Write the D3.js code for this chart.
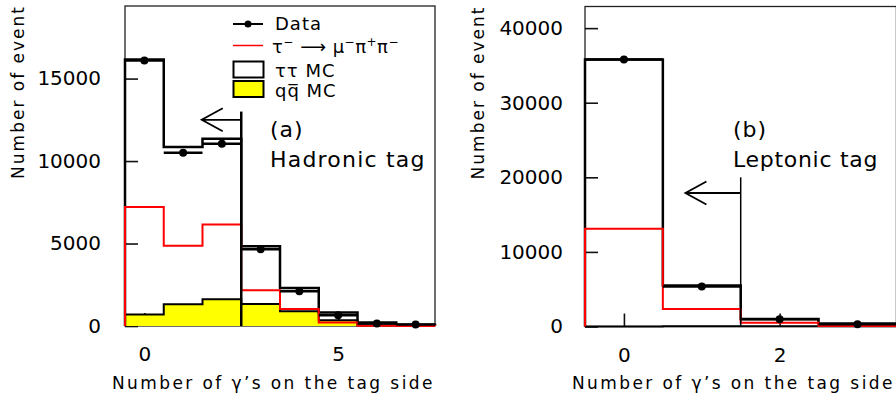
<!DOCTYPE html>
<html>
<head>
<meta charset="utf-8">
<script src="https://cdn.jsdelivr.net/npm/d3@7"></script>
<style>
  body { margin: 0; background: #fff; }
  svg { display: block; font-family: "DejaVu Sans", sans-serif; }
</style>
</head>
<body>
<div id="chart"></div>
<script>
const width = 896;
const height = 399;

// (a) hadronic tag: number of gammas on the tag side
const nGammaA = [0, 1, 2, 3, 4, 5, 6, 7];
const dataA = [16100, 10500, 11050, 4650, 2100, 650, 150, 90];
const ttMcA = [15450, 9530, 9730, 3500, 1400, 470, 160, 60];
const qqMcA = [700, 1320, 1620, 1330, 900, 350, 50, 10];
const sigA = [7220, 4860, 6150, 2170, 1030, 210, 15, 5];
const yTicksA = [0, 5000, 10000, 15000];
const xTicksA = [0, 5];

// (b) leptonic tag
const nGammaB = [0, 1, 2, 3];
const dataB = [35800, 5350, 970, 300];
const ttMcB = [35800, 5450, 960, 380];
const qqMcB = [0, 50, 40, 20];
const sigB = [13100, 2350, 510, 80];
const yTicksB = [0, 10000, 20000, 30000, 40000];
const xTicksB = [0, 2];

const svg = d3.select("#chart").append("svg").attr("width", width).attr("height", height);

// histogram outline as a step path through the bin edges
function stepPoints(bins, vals) {
  const pts = [{e: bins[0] - 0.5, v: 0}];
  bins.forEach((b, i) => pts.push({e: b - 0.5, v: vals[i]}));
  const last = bins[bins.length - 1] + 0.5;
  pts.push({e: last, v: vals[vals.length - 1]});
  pts.push({e: last, v: 0});
  return pts;
}

function drawPanel(p) {
  const g = svg.append("g");
  const x = d3.scaleLinear().domain([p.bins[0] - 0.5, p.bins[p.bins.length - 1] + 0.5]).range([p.left, p.right]);
  const y = d3.scaleLinear().domain([0, p.yMax]).range([p.bottom, p.top]);

  // frame
  g.append("rect")
    .attr("x", p.left).attr("y", p.top)
    .attr("width", p.right - p.left).attr("height", p.bottom - p.top)
    .attr("fill", "none").attr("stroke", "#222").attr("stroke-width", 1.3);

  // axes, ticks pointing inward
  const ya = g.append("g").attr("transform", `translate(${p.left},0)`)
    .call(d3.axisLeft(y).tickValues(p.yTicks).tickSizeInner(-13).tickSizeOuter(0).tickPadding(p.yPad).tickFormat(d3.format("d")));
  const xa = g.append("g").attr("transform", `translate(0,${p.bottom})`)
    .call(d3.axisBottom(x).tickValues(p.xTicks).tickSizeInner(-13).tickSizeOuter(0).tickPadding(21).tickFormat(d3.format("d")));
  [ya, xa].forEach(a => {
    a.select(".domain").remove();
    a.selectAll("line").attr("stroke", "#111").attr("stroke-width", 1.6);
    a.selectAll("text").attr("font-size", 20).attr("fill", "#000").attr("font-family", "DejaVu Sans, sans-serif");
  });

  const line = d3.line().x(d => x(d.e)).y(d => y(d.v)).curve(d3.curveStepAfter);
  const area = d3.area().x(d => x(d.e)).y0(y(0)).y1(d => y(d.v)).curve(d3.curveStepAfter);
  const total = p.tt.map((v, i) => v + p.qq[i]);

  // qq MC (yellow)
  g.append("path").attr("d", area(stepPoints(p.bins, p.qq))).attr("fill", "#ffff00");
  g.append("path").attr("d", line(stepPoints(p.bins, p.qq)))
    .attr("fill", "none").attr("stroke", "#000").attr("stroke-width", 2);

  // tau tau MC stacked on qq
  g.append("path").attr("d", line(stepPoints(p.bins, total)))
    .attr("fill", "none").attr("stroke", "#000").attr("stroke-width", 2.5);

  // signal MC
  g.append("path").attr("d", line(stepPoints(p.bins, p.sig)))
    .attr("fill", "none").attr("stroke", "#ff0000").attr("stroke-width", 2);

  // data: horizontal bin bars and dots
  g.selectAll(".dbar").data(p.bins).join("line")
    .attr("x1", d => x(d - 0.5)).attr("x2", d => x(d + 0.5))
    .attr("y1", (d, i) => y(p.data[i])).attr("y2", (d, i) => y(p.data[i]))
    .attr("stroke", "#000").attr("stroke-width", 2.5);
  g.selectAll(".dot").data(p.bins).join("circle")
    .attr("cx", d => x(d)).attr("cy", (d, i) => y(p.data[i]))
    .attr("r", 4).attr("fill", "#000");

  // cut line and arrow
  g.append("line")
    .attr("x1", x(p.cut)).attr("x2", x(p.cut))
    .attr("y1", y(p.cutTop)).attr("y2", y(0))
    .attr("stroke", "#000").attr("stroke-width", p.cutWidth);
  const ay = y(p.arrowY), tip = x(p.arrowTip);
  g.append("path")
    .attr("d", `M${x(p.cut)},${ay}H${tip}M${tip + 21},${ay - 11.5}L${tip},${ay}L${tip + 21},${ay + 11.5}`)
    .attr("fill", "none").attr("stroke", "#000").attr("stroke-width", 1.8);

  // labels
  g.append("text").attr("x", p.tagX).attr("y", 137).attr("font-size", 22).attr("letter-spacing", 1).text(p.letter);
  g.append("text").attr("x", p.tagX).attr("y", 167).attr("font-size", 22).attr("letter-spacing", p.tagSpacing).text(p.tag);

  g.append("text")
    .attr("transform", `translate(${p.left - 101},${p.top - 1}) rotate(-90)`)
    .attr("text-anchor", "end").attr("font-size", 17).attr("letter-spacing", 2)
    .text("Number of event");
  g.append("text")
    .attr("x", p.left - 13).attr("y", 389)
    .attr("font-size", 17).attr("letter-spacing", 2.4)
    .text("Number of γ’s on the tag side");
  return g;
}

const gA = drawPanel({
  bins: nGammaA, data: dataA, tt: ttMcA, qq: qqMcA, sig: sigA,
  yTicks: yTicksA, xTicks: xTicksA, yMax: 19400, yPad: 24,
  left: 125, right: 435, top: 6, bottom: 326,
  cut: 2.5, cutTop: 13000, arrowY: 12500, arrowTip: 1.48, cutWidth: 2.5,
  tagX: 270, letter: "(a)", tag: "Hadronic tag", tagSpacing: 1.2
});

drawPanel({
  bins: nGammaB, data: dataB, tt: ttMcB, qq: qqMcB, sig: sigB,
  yTicks: yTicksB, xTicks: xTicksB, yMax: 42900, yPad: 22,
  left: 585, right: 896.4, top: 6.5, bottom: 326.5,
  cut: 1.5, cutTop: 20000, arrowY: 17900, arrowTip: 0.79, cutWidth: 1.5,
  tagX: 733, letter: "(b)", tag: "Leptonic tag", tagSpacing: 0.7
});

// legend (panel a)
const leg = gA.append("g").attr("font-size", 18).attr("letter-spacing", 1);
leg.append("line").attr("x1", 233).attr("x2", 263).attr("y1", 24).attr("y2", 24).attr("stroke", "#000").attr("stroke-width", 2);
leg.append("circle").attr("cx", 248).attr("cy", 24).attr("r", 3.5).attr("fill", "#000");
leg.append("text").attr("x", 275).attr("y", 30).text("Data");

leg.append("line").attr("x1", 233).attr("x2", 263).attr("y1", 45.5).attr("y2", 45.5).attr("stroke", "#ff0000").attr("stroke-width", 1.5);
const sigParts = [["τ", 0], ["−", 1], [" ⟶ ", 0], ["μ", 0], ["−", 1], ["π", 0], ["+", 1], ["π", 0], ["−", 1]];
const sigText = leg.append("text").attr("x", 272).attr("y", 53).attr("letter-spacing", 0.5);
let up = 0;
sigParts.forEach(([s, sup]) => {
  const dy = sup ? -7 : (up ? 7 : 0);
  up = sup;
  sigText.append("tspan").attr("dy", dy).attr("font-size", sup ? 12 : 18).text(s);
});

leg.append("rect").attr("x", 233.5).attr("y", 61.5).attr("width", 30).attr("height", 16).attr("fill", "#fff").attr("stroke", "#000").attr("stroke-width", 2);
leg.append("text").attr("x", 275).attr("y", 77).text("ττ MC");
leg.append("rect").attr("x", 233.5).attr("y", 81).attr("width", 30).attr("height", 16).attr("fill", "#ffff00").attr("stroke", "#000").attr("stroke-width", 2);
leg.append("text").attr("x", 275).attr("y", 97).text("qq\u0305 MC");
</script>
</body>
</html>
